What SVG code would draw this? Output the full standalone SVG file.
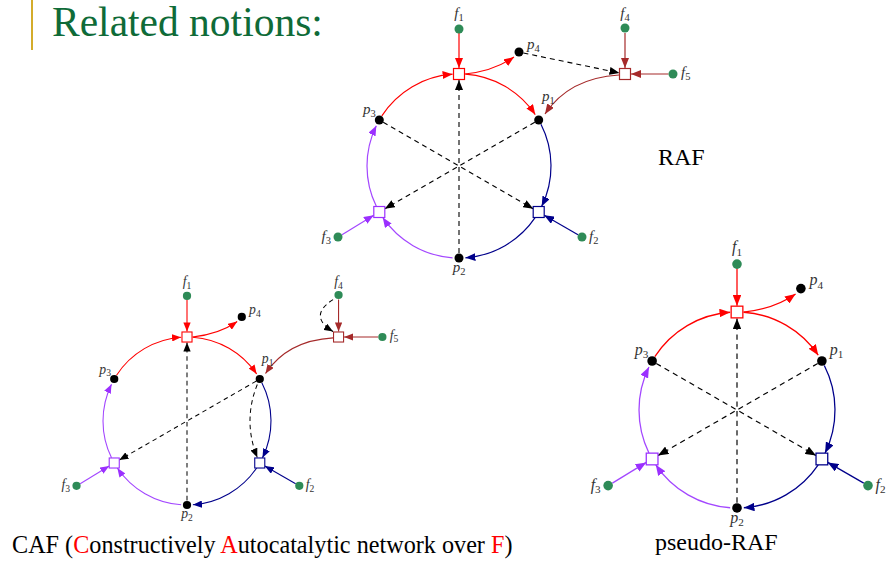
<svg xmlns="http://www.w3.org/2000/svg" width="886" height="562" viewBox="0 0 886 562">
<style>
text{font-family:"Liberation Serif","Times New Roman",serif}
.lbl{font-style:italic;font-size:15px;fill:#333}
.sub{font-style:normal;font-size:10.5px}
.title{font-size:41.5px;fill:#0f6b38}
.cap{font-size:24px;fill:#000}
.red{fill:#ff0000}
.sq{fill:#fff;stroke-width:1.2}
.sr{stroke:#ff0000}.sb{stroke:#00008b}.sp{stroke:#9b30ff}.sn{stroke:#a52a2a}
.dot{fill:#000}
.fd{fill:#2e8b57}
.e{fill:none;stroke-width:1.2}
.er{stroke:#ff0000;marker-end:url(#ar)}
.eb{stroke:#00008b;marker-end:url(#ab)}
.ep{stroke:#a347ff;marker-end:url(#ap)}
.en{stroke:#a52a2a;marker-end:url(#an)}
.d{fill:none;stroke:#000;stroke-width:1.1;stroke-dasharray:5 4;marker-end:url(#ak)}
</style>
<defs>
<marker id="ar" viewBox="0 0 10 8" refX="10" refY="4" markerWidth="10" markerHeight="8" markerUnits="userSpaceOnUse" orient="auto"><path d="M0,0 L10,4 L0,8 z" fill="#ff0000"/></marker>
<marker id="ab" viewBox="0 0 10 8" refX="10" refY="4" markerWidth="10" markerHeight="8" markerUnits="userSpaceOnUse" orient="auto"><path d="M0,0 L10,4 L0,8 z" fill="#00008b"/></marker>
<marker id="ap" viewBox="0 0 10 8" refX="10" refY="4" markerWidth="10" markerHeight="8" markerUnits="userSpaceOnUse" orient="auto"><path d="M0,0 L10,4 L0,8 z" fill="#9b30ff"/></marker>
<marker id="an" viewBox="0 0 10 8" refX="10" refY="4" markerWidth="10" markerHeight="8" markerUnits="userSpaceOnUse" orient="auto"><path d="M0,0 L10,4 L0,8 z" fill="#a52a2a"/></marker>
<marker id="ak" viewBox="0 0 10 8" refX="10" refY="4" markerWidth="10" markerHeight="8" markerUnits="userSpaceOnUse" orient="auto"><path d="M0,0 L10,4 L0,8 z" fill="#000"/></marker>
</defs>

<rect x="31" y="0" width="2" height="50" fill="#d4ac2b"/>
<text class="title" x="52" y="36">Related notions:</text>

<!-- RAF -->
<g id="raf" transform="translate(459,166)">
 <g id="raf-connectors">
  <path class="e er" d="M0,-133 L0,-98"/>
  <path class="e er" d="M-77.16,-50.10 A92,92 0 0 1 -6.42,-91.78"/>
  <path class="e er" d="M6.42,-91.78 A92,92 0 0 1 76.27,-51.45"/>
  <path class="e er" d="M6,-92 Q35,-95 55,-109"/>
  <path class="e eb" d="M81.97,-41.77 A92,92 0 0 1 82.69,40.33"/>
  <path class="e eb" d="M76.27,51.45 A92,92 0 0 1 6.42,91.78"/>
  <path class="e eb" d="M119,68.7 L85.2,49.2"/>
  <path class="e ep" d="M-6.42,91.78 A92,92 0 0 1 -76.27,51.45"/>
  <path class="e ep" d="M-82.69,40.33 A92,92 0 0 1 -82.69,-40.33"/>
  <path class="e ep" d="M-117,68.7 L-85.2,49.2"/>
  <path class="e en" d="M166,-133 L166,-98"/>
  <path class="e en" d="M209.5,-92 L172,-92"/>
  <path class="e en" d="M160,-91 Q110,-88 86,-52"/>
  <path class="d" d="M0,87 L0,-86"/>
  <path class="d" d="M-75.8,-43.7 L74.2,42.8"/>
  <path class="d" d="M75.8,-43.7 L-74.2,42.8"/>
  <path class="d" d="M64.4,-113 L160.5,-93.1"/>
 </g>
 <g id="raf-r1"><rect class="sq sr" x="-5.5" y="-97.5" width="11" height="11"/></g>
 <g id="raf-r2"><rect class="sq sb" x="74.2" y="40.5" width="11" height="11"/></g>
 <g id="raf-r3"><rect class="sq sp" x="-85.2" y="40.5" width="11" height="11"/></g>
 <g id="raf-r4"><rect class="sq sn" x="160.5" y="-97.5" width="11" height="11"/></g>
 <g id="raf-p1"><circle class="dot" cx="79.7" cy="-46" r="4.5"/><text class="lbl" x="83" y="-65">p<tspan class="sub" dy="3">1</tspan></text></g>
 <g id="raf-p2"><circle class="dot" cx="0" cy="92" r="4.5"/><text class="lbl" x="0" y="106" text-anchor="middle">p<tspan class="sub" dy="3">2</tspan></text></g>
 <g id="raf-p3"><circle class="dot" cx="-79.7" cy="-46" r="4.5"/><text class="lbl" x="-96" y="-52">p<tspan class="sub" dy="3">3</tspan></text></g>
 <g id="raf-p4"><circle class="dot" cx="60" cy="-114" r="4.5"/><text class="lbl" x="68" y="-117">p<tspan class="sub" dy="3">4</tspan></text></g>
 <g id="raf-f1"><circle class="fd" cx="0" cy="-137" r="4.5"/><text class="lbl" x="0" y="-148" text-anchor="middle">f<tspan class="sub" dy="3">1</tspan></text></g>
 <g id="raf-f2"><circle class="fd" cx="123" cy="71" r="4.5"/><text class="lbl" x="130" y="75">f<tspan class="sub" dy="3">2</tspan></text></g>
 <g id="raf-f3"><circle class="fd" cx="-121" cy="71" r="4.5"/><text class="lbl" x="-128" y="75" text-anchor="end">f<tspan class="sub" dy="3">3</tspan></text></g>
 <g id="raf-f4"><circle class="fd" cx="166" cy="-138" r="4.5"/><text class="lbl" x="166" y="-148" text-anchor="middle">f<tspan class="sub" dy="3">4</tspan></text></g>
 <g id="raf-f5"><circle class="fd" cx="214" cy="-92" r="4.5"/><text class="lbl" x="222" y="-89">f<tspan class="sub" dy="3">5</tspan></text></g>
</g>
<text class="cap" x="658" y="165">RAF</text>

<!-- CAF -->
<g id="caf" transform="translate(187,421) scale(0.913)">
 <g id="caf-connectors">
  <path class="e er" d="M0,-133 L0,-98"/>
  <path class="e er" d="M-77.16,-50.10 A92,92 0 0 1 -6.42,-91.78"/>
  <path class="e er" d="M6.42,-91.78 A92,92 0 0 1 76.27,-51.45"/>
  <path class="e er" d="M6,-92 Q35,-95 55,-109"/>
  <path class="e eb" d="M81.97,-41.77 A92,92 0 0 1 82.69,40.33"/>
  <path class="e eb" d="M76.27,51.45 A92,92 0 0 1 6.42,91.78"/>
  <path class="e eb" d="M119,68.7 L85.2,49.2"/>
  <path class="e ep" d="M-6.42,91.78 A92,92 0 0 1 -76.27,51.45"/>
  <path class="e ep" d="M-82.69,40.33 A92,92 0 0 1 -82.69,-40.33"/>
  <path class="e ep" d="M-117,68.7 L-85.2,49.2"/>
  <path class="e en" d="M166,-133 L166,-98"/>
  <path class="e en" d="M209.5,-92 L172,-92"/>
  <path class="e en" d="M160,-91 Q110,-88 86,-52"/>
  <path class="d" d="M0,87 L0,-86"/>
  <path class="d" d="M75.8,-43.7 L-74.2,42.8"/>
  <path class="d" d="M77,-40 Q61,0 77,40"/>
  <path class="d" d="M160,-133 Q132,-115 160,-98"/>
 </g>
 <g id="caf-r1"><rect class="sq sr" x="-5.5" y="-97.5" width="11" height="11"/></g>
 <g id="caf-r2"><rect class="sq sb" x="74.2" y="40.5" width="11" height="11"/></g>
 <g id="caf-r3"><rect class="sq sp" x="-85.2" y="40.5" width="11" height="11"/></g>
 <g id="caf-r4"><rect class="sq sn" x="160.5" y="-97.5" width="11" height="11"/></g>
 <g id="caf-p1"><circle class="dot" cx="79.7" cy="-46" r="4.5"/><text class="lbl" x="82" y="-63">p<tspan class="sub" dy="3">1</tspan></text></g>
 <g id="caf-p2"><circle class="dot" cx="0" cy="92" r="4.5"/><text class="lbl" x="0" y="106" text-anchor="middle">p<tspan class="sub" dy="3">2</tspan></text></g>
 <g id="caf-p3"><circle class="dot" cx="-79.7" cy="-46" r="4.5"/><text class="lbl" x="-96" y="-52">p<tspan class="sub" dy="3">3</tspan></text></g>
 <g id="caf-p4"><circle class="dot" cx="60" cy="-114" r="4.5"/><text class="lbl" x="68" y="-117">p<tspan class="sub" dy="3">4</tspan></text></g>
 <g id="caf-f1"><circle class="fd" cx="0" cy="-137" r="4.5"/><text class="lbl" x="0" y="-148" text-anchor="middle">f<tspan class="sub" dy="3">1</tspan></text></g>
 <g id="caf-f2"><circle class="fd" cx="123" cy="71" r="4.5"/><text class="lbl" x="130" y="75">f<tspan class="sub" dy="3">2</tspan></text></g>
 <g id="caf-f3"><circle class="fd" cx="-121" cy="71" r="4.5"/><text class="lbl" x="-128" y="75" text-anchor="end">f<tspan class="sub" dy="3">3</tspan></text></g>
 <g id="caf-f4"><circle class="fd" cx="166" cy="-138" r="4.5"/><text class="lbl" x="166" y="-148" text-anchor="middle">f<tspan class="sub" dy="3">4</tspan></text></g>
 <g id="caf-f5"><circle class="fd" cx="214" cy="-92" r="4.5"/><text class="lbl" x="222" y="-89">f<tspan class="sub" dy="3">5</tspan></text></g>
</g>
<text class="cap" x="12" y="553" style="font-size:24.2px">CAF (<tspan class="red">C</tspan>onstructively <tspan class="red">A</tspan>utocatalytic network over <tspan class="red">F</tspan>)</text>

<!-- pseudo-RAF -->
<g id="pseudo" transform="translate(737,410) scale(1.065)">
 <g id="pseudo-connectors">
  <path class="e er" d="M0,-133 L0,-98"/>
  <path class="e er" d="M-77.16,-50.10 A92,92 0 0 1 -6.42,-91.78"/>
  <path class="e er" d="M6.42,-91.78 A92,92 0 0 1 76.27,-51.45"/>
  <path class="e er" d="M6,-92 Q35,-95 55,-109"/>
  <path class="e eb" d="M81.97,-41.77 A92,92 0 0 1 82.69,40.33"/>
  <path class="e eb" d="M76.27,51.45 A92,92 0 0 1 6.42,91.78"/>
  <path class="e eb" d="M119,68.7 L85.2,49.2"/>
  <path class="e ep" d="M-6.42,91.78 A92,92 0 0 1 -76.27,51.45"/>
  <path class="e ep" d="M-82.69,40.33 A92,92 0 0 1 -82.69,-40.33"/>
  <path class="e ep" d="M-117,68.7 L-85.2,49.2"/>
  <path class="d" d="M0,87 L0,-86"/>
  <path class="d" d="M-75.8,-43.7 L74.2,42.8"/>
  <path class="d" d="M75.8,-43.7 L-74.2,42.8"/>
 </g>
 <g id="pseudo-r1"><rect class="sq sr" x="-5.5" y="-97.5" width="11" height="11"/></g>
 <g id="pseudo-r2"><rect class="sq sb" x="74.2" y="40.5" width="11" height="11"/></g>
 <g id="pseudo-r3"><rect class="sq sp" x="-85.2" y="40.5" width="11" height="11"/></g>
 <g id="pseudo-p1"><circle class="dot" cx="79.7" cy="-46" r="4.5"/><text class="lbl" x="87" y="-52">p<tspan class="sub" dy="3">1</tspan></text></g>
 <g id="pseudo-p2"><circle class="dot" cx="0" cy="92" r="4.5"/><text class="lbl" x="0" y="106" text-anchor="middle">p<tspan class="sub" dy="3">2</tspan></text></g>
 <g id="pseudo-p3"><circle class="dot" cx="-79.7" cy="-46" r="4.5"/><text class="lbl" x="-96" y="-52">p<tspan class="sub" dy="3">3</tspan></text></g>
 <g id="pseudo-p4"><circle class="dot" cx="60" cy="-114" r="4.5"/><text class="lbl" x="68" y="-117">p<tspan class="sub" dy="3">4</tspan></text></g>
 <g id="pseudo-f1"><circle class="fd" cx="0" cy="-137" r="4.5"/><text class="lbl" x="0" y="-148" text-anchor="middle">f<tspan class="sub" dy="3">1</tspan></text></g>
 <g id="pseudo-f2"><circle class="fd" cx="123" cy="71" r="4.5"/><text class="lbl" x="130" y="75">f<tspan class="sub" dy="3">2</tspan></text></g>
 <g id="pseudo-f3"><circle class="fd" cx="-121" cy="71" r="4.5"/><text class="lbl" x="-128" y="75" text-anchor="end">f<tspan class="sub" dy="3">3</tspan></text></g>
</g>
<text class="cap" x="655" y="550">pseudo-RAF</text>
</svg>
